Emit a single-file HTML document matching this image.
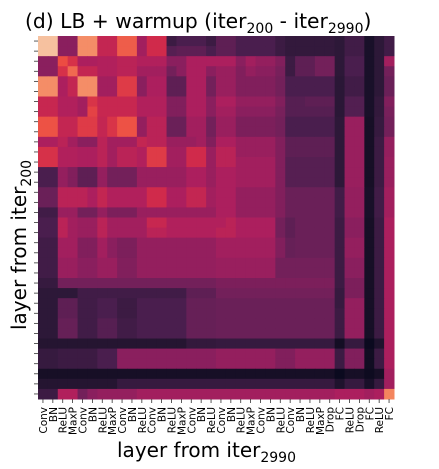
<!DOCTYPE html>
<html><head><meta charset="utf-8"><style>
body{margin:0;background:#fff;width:439px;height:469px;overflow:hidden}
svg{display:block;font-family:"DejaVu Sans","Liberation Sans",sans-serif}
</style></head><body>
<svg id="chart" width="439" height="469" xmlns="http://www.w3.org/2000/svg">
<text x="25" y="28" font-size="20.3">(d) LB + warmup (iter<tspan font-size="14" dy="5">200</tspan><tspan dy="-5"> - iter</tspan><tspan font-size="14" dy="5">2990</tspan><tspan dy="-5">)</tspan></text>
<text transform="translate(26,330) rotate(-90)" font-size="20">layer from iter<tspan font-size="14" dy="5">200</tspan></text>
<text x="117" y="457" font-size="20">layer from iter<tspan font-size="14" dy="5">2990</tspan></text>
<g id="cells"></g><g id="ticks"></g>
</svg>
<script>
const xLabels=["Conv","BN","ReLU","MaxP","Conv","BN","ReLU","MaxP","Conv","BN","ReLU","Conv","BN","ReLU","MaxP","Conv","BN","ReLU","Conv","BN","ReLU","MaxP","Conv","BN","ReLU","Conv","BN","ReLU","MaxP","Drop","FC","ReLU","Drop","FC","ReLU","FC"];
const row0=[90,90,40,40,77,77,52,52,68,68,45,55,55,20,25,25,25,20,30,30,25,25,25,25,20,17,17,17,17,17,15,22,22,8,15,22];
const row1=[90,90,40,40,77,77,52,52,68,68,45,55,55,28,30,30,30,25,30,30,25,25,25,25,20,17,17,17,17,17,15,22,22,8,15,22];
const row2=[40,40,65,57,47,47,48,48,50,50,48,48,48,40,40,47,47,47,47,47,40,45,42,42,38,20,30,30,35,35,15,25,25,8,15,45];
const row3=[40,40,57,70,52,52,48,48,50,50,45,45,45,35,40,47,47,40,43,43,38,42,40,40,36,20,30,30,35,35,15,25,25,8,15,35];
const row4=[77,77,47,52,77,77,45,45,60,60,40,47,47,30,30,47,47,35,43,43,38,38,38,38,35,25,25,25,25,25,14,22,22,8,15,33];
const row6=[53,53,48,48,45,58,53,53,53,53,48,48,48,38,38,47,47,40,47,47,42,42,42,42,38,28,28,30,30,30,14,27,27,8,17,38];
const row7=[53,53,48,48,45,62,53,53,53,53,48,48,48,38,38,47,47,40,45,45,40,40,40,40,36,28,28,28,28,28,14,27,27,8,17,36];
const row8=[66,66,52,52,60,60,52,58,66,66,42,50,50,33,33,45,45,35,43,43,37,37,37,37,35,25,25,25,25,25,15,43,43,7,18,35];
const row10=[47,47,50,45,40,40,50,45,45,45,52,50,50,43,43,43,45,38,47,47,43,43,43,43,38,30,30,30,30,30,15,43,43,7,20,42];
const row11=[57,57,48,48,47,47,50,45,50,50,48,60,60,45,45,55,55,43,50,50,43,43,43,43,38,30,30,30,30,30,15,43,43,7,20,42];
const row12=[57,57,48,48,47,47,50,45,50,50,48,60,60,45,45,55,55,43,50,50,45,45,45,45,38,28,28,28,28,28,15,43,43,7,20,43];
const row13=[25,25,42,38,30,30,42,35,35,35,43,43,43,43,43,47,47,43,47,47,45,45,45,45,38,28,28,28,28,28,15,43,43,7,20,43];
const row15=[33,33,50,50,50,47,52,48,48,48,48,55,55,47,47,52,52,45,47,47,42,42,42,42,38,33,33,33,33,33,22,42,42,8,22,45];
const row17=[22,22,43,43,35,35,42,37,37,37,43,43,43,43,43,43,43,43,47,47,42,42,42,42,38,33,33,33,33,33,22,42,42,8,22,45];
const row18=[25,25,50,45,43,43,50,45,45,45,45,53,53,48,48,48,48,48,48,50,47,47,47,47,35,30,33,33,33,33,20,40,40,7,20,47];
const row19=[25,25,50,45,43,43,50,45,45,45,45,50,50,48,48,48,48,48,50,50,47,47,47,47,35,30,33,33,33,33,20,40,40,7,20,47];
const row20=[22,22,45,45,38,38,45,40,37,37,42,42,42,42,42,42,42,42,45,45,45,45,45,45,38,32,33,33,33,33,20,42,42,7,20,47];
const row22=[22,22,43,43,40,40,43,43,38,38,42,42,42,42,42,42,42,42,43,43,43,43,43,43,35,35,35,35,35,35,20,40,40,7,20,47];
const row24=[18,18,35,35,35,35,35,35,35,35,35,35,35,35,35,35,35,35,37,37,37,37,37,37,37,37,37,37,37,37,20,37,37,7,20,47];
const row25=[15,15,15,15,22,22,22,22,22,22,22,22,22,22,22,30,30,30,35,35,35,35,35,35,35,35,35,35,35,35,18,37,37,7,20,47];
const row26=[15,15,30,30,22,22,25,25,20,20,25,25,25,25,25,32,32,32,33,33,33,33,33,33,33,33,33,33,33,33,18,42,42,7,20,47];
const row27=[15,15,30,30,22,22,25,25,20,20,25,25,25,25,25,32,32,32,33,33,33,33,33,33,33,33,33,33,33,33,20,42,42,7,20,47];
const row28=[15,15,32,32,22,22,28,28,22,22,25,25,25,25,25,32,32,32,33,33,33,33,33,33,33,33,33,33,33,33,20,42,42,7,20,47];
const row30=[12,12,12,12,12,12,12,12,12,12,12,12,12,12,12,17,17,17,18,18,18,18,18,18,18,18,18,18,18,18,6,18,18,3,10,47];
const row31=[18,18,20,20,20,20,25,25,40,40,40,40,40,40,40,40,40,40,42,42,42,42,42,42,38,38,42,42,42,42,20,38,38,5,20,47];
const row33=[7,7,7,7,7,7,7,7,7,7,7,7,7,7,7,7,7,7,7,7,7,7,7,7,7,7,7,7,7,7,3,7,7,4,7,45];
const row34=[12,12,12,12,12,12,12,12,18,18,18,18,18,18,18,18,18,18,18,18,18,18,18,18,18,18,18,18,18,18,10,18,18,8,18,45];
const row35=[20,20,48,48,35,40,42,42,42,42,45,45,45,45,45,45,45,45,45,45,45,45,45,45,45,45,45,45,45,45,47,47,47,45,47,75];
const matrix=[row0,row1,row2,row3,row4,row4,row6,row7,row8,row8,row10,row11,row12,row13,row13,row15,row15,row17,row18,row19,row20,row20,row22,row22,row24,row25,row26,row27,row28,row28,row30,row31,row31,row33,row34,row35];

const stops=[[0,[3,5,26]],[5,[17,13,34]],[15,[45,24,56]],[25,[74,30,78]],[33,[106,32,88]],[40,[138,31,94]],[47,[172,31,94]],[55,[208,42,75]],[65,[236,76,66]],[75,[244,133,94]],[90,[246,193,159]],[100,[250,235,221]]];
function color(v){for(let i=1;i<stops.length;i++){if(v<=stops[i][0]){const a=stops[i-1],b=stops[i];const t=(v-a[0])/(b[0]-a[0]);const c=a[1].map((x,k)=>Math.round(x+(b[1][k]-x)*t));return `rgb(${c})`;}}return 'rgb(250,235,221)';}
const X0=38,X1=394,Y0=36,Y1=399,N=xLabels.length;
const xs=i=>X0+(X1-X0)*i/N, ys=i=>Y0+(Y1-Y0)*i/matrix.length;
const NS="http://www.w3.org/2000/svg";
const cells=document.getElementById('cells'),ticks=document.getElementById('ticks');
matrix.forEach((row,r)=>row.forEach((v,c)=>{
 const el=document.createElementNS(NS,'rect');
 
 
 el.setAttribute('x',xs(c));el.setAttribute('y',ys(r));
 el.setAttribute('width',xs(c+1)-xs(c)+0.5);el.setAttribute('height',ys(r+1)-ys(r)+0.5);
 el.setAttribute('fill',color(v));cells.appendChild(el);
}));
xLabels.forEach((l,i)=>{
 const cx=(xs(i)+xs(i+1))/2;
 const t=document.createElementNS(NS,'line');
 
 
 t.setAttribute('x1',cx);t.setAttribute('x2',cx);t.setAttribute('y1',Y1);t.setAttribute('y2',Y1+4);t.setAttribute('stroke','#333');t.setAttribute('stroke-width','0.8');ticks.appendChild(t);
 const tx=document.createElementNS(NS,'text');
 
 
 tx.setAttribute('transform',`translate(${cx+4},${Y1+8}) rotate(-90)`);
 tx.setAttribute('text-anchor','end');tx.setAttribute('font-size','10.5');tx.textContent=l;ticks.appendChild(tx);
});
matrix.forEach((row,r)=>{
 const cy=(ys(r)+ys(r+1))/2;
 const t=document.createElementNS(NS,'line');
 
 
 t.setAttribute('x1',X0-4);t.setAttribute('x2',X0);t.setAttribute('y1',cy);t.setAttribute('y2',cy);t.setAttribute('stroke','#333');t.setAttribute('stroke-width','0.8');ticks.appendChild(t);
});
</script>
</body></html>
